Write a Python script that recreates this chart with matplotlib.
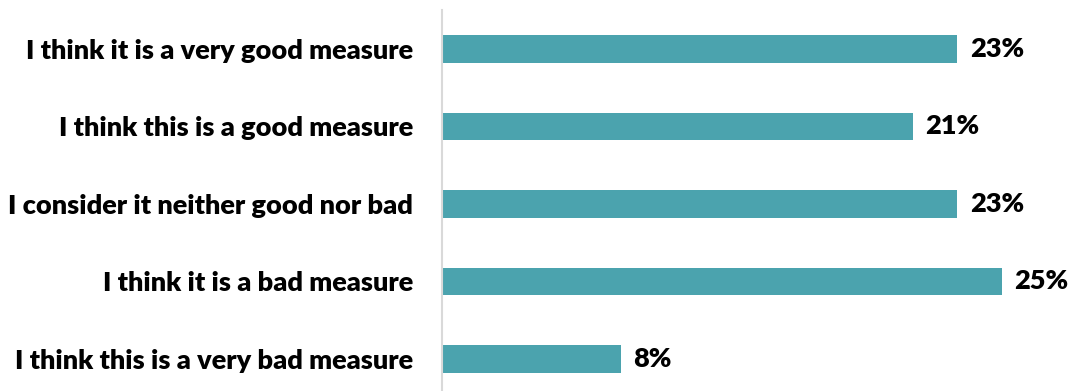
import numpy as np
import matplotlib.pyplot as plt

labels = ['I think it is a very good measure',
          'I think this is a good measure',
          'I consider it neither good nor bad',
          'I think it is a bad measure',
          'I think this is a very bad measure']
values = [23, 21, 23, 25, 8]

plt.rcParams['font.family'] = ['Lato', 'DejaVu Sans']

fig = plt.figure(figsize=(10.74, 3.91), dpi=100)
ax = fig.add_axes([442/1074, 0, 1 - 442/1074, 381/391])

y = np.arange(len(labels))
ax.barh(y, values, height=0.36, color='#4BA3AE')

for yi, v in zip(y, values):
    ax.text(v + 0.55, yi, str(v) + '%', va='center', ha='left',
            fontsize=19.5, fontweight='heavy', color='black')

ax.set_yticks(y)
ax.set_yticklabels(labels, fontsize=19.5, fontweight='heavy')
ax.tick_params(axis='y', length=0, pad=21)
ax.set_xticks([])
ax.set_xlim(0, 28.2)
ax.set_ylim(4.413, -0.503)

for s in ['top', 'right', 'bottom']:
    ax.spines[s].set_visible(False)
ax.spines['left'].set_color('#D9D9D9')
ax.spines['left'].set_linewidth(1.5)

plt.savefig('out.png', dpi=100)
